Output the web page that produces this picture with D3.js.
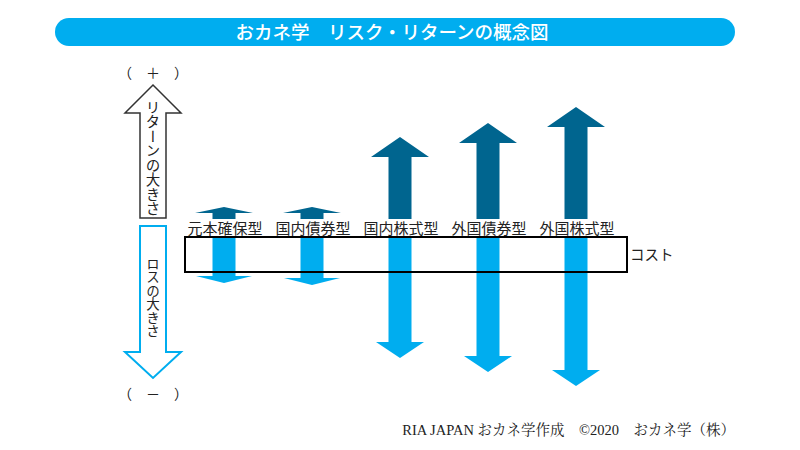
<!DOCTYPE html>
<html><head><meta charset="utf-8">
<script src="https://cdn.jsdelivr.net/npm/d3@7/dist/d3.min.js"></script>
<style>
body{margin:0;background:#fff;}
text{font-family:"Noto Sans CJK JP","Noto Sans",sans-serif;}
</style></head>
<body><svg id="c" width="800" height="450"></svg>
<script>
const categories = ["元本確保型","国内債券型","国内株式型","外国債券型","外国株式型"];
const returnSize = [12, 12, 82, 96, 112];   // upward arrow length (return)
const lossSize   = [46, 48, 121, 135, 149]; // downward arrow length (loss)
const titleText = "おカネ学　リスク・リターンの概念図";
const footerText = "RIA JAPAN おカネ学作成　©2020　おカネ学（株）";
const axisTop = "（　＋　）", axisBottom = "（　－　）";
const upLabel = "リターンの大きさ", downLabel = "ロスの大きさ";
const costLabel = "コスト";

const svg = d3.select("#c");
const dark = "#00658f", light = "#00adef";

// title bar
svg.append("rect").attr("x",55).attr("y",18).attr("width",680).attr("height",28).attr("rx",14).attr("fill",light);
svg.append("text").attr("x",392).attr("y",38.5).attr("text-anchor","middle").attr("fill","#fff")
  .attr("font-size",18.5).attr("font-weight",500).text(titleText);

const x = d3.scaleBand().domain(categories).range([180,620]);
const yUp = d3.scaleLinear().domain([0,120]).range([219,99]);
const yDown = d3.scaleLinear().domain([0,150]).range([237,387]);

const shaftW = 23;
// up arrows
categories.forEach((c,i)=>{
  const cx = x(c)+x.bandwidth()/2;
  const tip = yUp(returnSize[i]);
  const headH = Math.min(20, (yUp(0)-tip)*0.5);
  const hw = 29;
  const base = yUp(0);
  const p = d3.path();
  p.moveTo(cx-shaftW/2, base); p.lineTo(cx-shaftW/2, tip+headH); p.lineTo(cx-hw, tip+headH);
  p.lineTo(cx, tip); p.lineTo(cx+hw, tip+headH); p.lineTo(cx+shaftW/2, tip+headH); p.lineTo(cx+shaftW/2, base); p.closePath();
  svg.append("path").attr("d",p.toString()).attr("fill",dark);
});
// down arrows
categories.forEach((c,i)=>{
  const cx = x(c)+x.bandwidth()/2;
  const tip = yDown(lossSize[i]);
  const headH = lossSize[i] > 60 ? 16 : 7;
  const hw = lossSize[i] > 60 ? 24 : 28;
  const base = yDown(0);
  const p = d3.path();
  p.moveTo(cx-shaftW/2, base); p.lineTo(cx-shaftW/2, tip-headH); p.lineTo(cx-hw, tip-headH);
  p.lineTo(cx, tip); p.lineTo(cx+hw, tip-headH); p.lineTo(cx+shaftW/2, tip-headH); p.lineTo(cx+shaftW/2, base); p.closePath();
  svg.append("path").attr("d",p.toString()).attr("fill",light);
});
// labels
svg.selectAll("text.cat").data(categories).join("text").attr("class","cat")
  .attr("x",d=>x(d)+x.bandwidth()/2+1).attr("y",234).attr("text-anchor","middle")
  .attr("font-size",15).attr("fill","#222").text(d=>d);
// cost box
svg.append("rect").attr("x",185).attr("y",237).attr("width",442).attr("height",35)
  .attr("fill","none").attr("stroke","#000").attr("stroke-width",2);
svg.append("text").attr("x",630).attr("y",260).attr("font-size",14.5).attr("fill","#222").text(costLabel);

// left legend arrows
const lx = 153;
const up = d3.path();
up.moveTo(lx-13,218); up.lineTo(lx-13,113); up.lineTo(lx-28,113); up.lineTo(lx,85);
up.lineTo(lx+28,113); up.lineTo(lx+13,113); up.lineTo(lx+13,218); up.closePath();
svg.append("path").attr("d",up.toString()).attr("fill","#fff").attr("stroke","#333").attr("stroke-width",1.5);
const dn = d3.path();
dn.moveTo(lx-13,226); dn.lineTo(lx-13,352); dn.lineTo(lx-28,352); dn.lineTo(lx,378);
dn.lineTo(lx+28,352); dn.lineTo(lx+13,352); dn.lineTo(lx+13,226); dn.closePath();
svg.append("path").attr("d",dn.toString()).attr("fill","#fff").attr("stroke",light).attr("stroke-width",2);

svg.append("text").attr("x",lx).attr("y",100).attr("font-size",14.5).attr("fill","#222")
  .style("writing-mode","vertical-rl").attr("text-anchor","start").text(upLabel);
svg.append("text").attr("x",lx).attr("y",257).attr("font-size",13.5).attr("fill","#222")
  .style("writing-mode","vertical-rl").attr("text-anchor","start").text(downLabel);

svg.append("text").attr("x",lx).attr("y",78).attr("text-anchor","middle").attr("font-size",14).attr("fill","#222")
  .text(axisTop);
svg.append("text").attr("x",lx).attr("y",399).attr("text-anchor","middle").attr("font-size",14).attr("fill","#222")
  .text(axisBottom);

// footer
svg.append("text").attr("x",735).attr("y",435).attr("text-anchor","end").attr("font-size",14.5).attr("fill","#222")
  .style("font-family","'Liberation Serif','Noto Serif CJK JP','Noto Sans CJK JP',serif").text(footerText);
</script></body></html>
